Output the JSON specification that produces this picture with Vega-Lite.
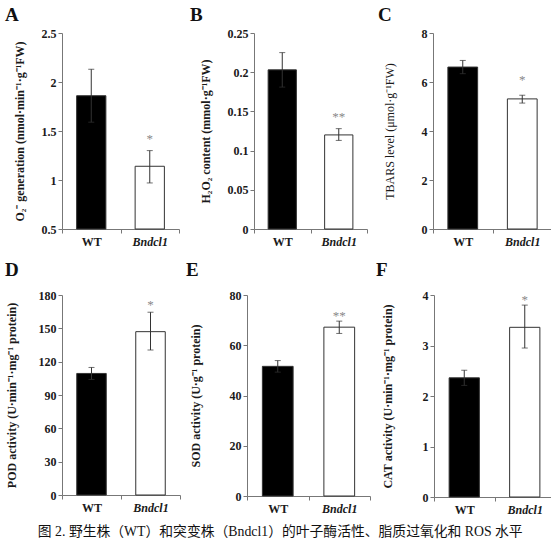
{
  "$schema": "https://vega.github.io/schema/vega-lite/v6.json",
  "padding": {"left": 5, "top": 6, "right": 0, "bottom": 0},
  "datasets": {
    "enz": [
      {"panel": "A", "g": "WT", "v": 1.86, "lo": 1.59, "hi": 2.13, "star": "", "sy": null},
      {"panel": "A", "g": "Bndcl1", "v": 1.14, "lo": 0.97, "hi": 1.30, "star": "*", "sy": 1.42},
      {"panel": "B", "g": "WT", "v": 0.203, "lo": 0.181, "hi": 0.225, "star": "", "sy": null},
      {"panel": "B", "g": "Bndcl1", "v": 0.120, "lo": 0.113, "hi": 0.128, "star": "**", "sy": 0.143},
      {"panel": "C", "g": "WT", "v": 6.61, "lo": 6.34, "hi": 6.88, "star": "", "sy": null},
      {"panel": "C", "g": "Bndcl1", "v": 5.31, "lo": 5.14, "hi": 5.46, "star": "*", "sy": 6.08},
      {"panel": "D", "g": "WT", "v": 109.4, "lo": 104, "hi": 114.8, "star": "", "sy": null},
      {"panel": "D", "g": "Bndcl1", "v": 147, "lo": 130.5, "hi": 164.5, "star": "*", "sy": 171},
      {"panel": "E", "g": "WT", "v": 51.6, "lo": 49.3, "hi": 53.9, "star": "", "sy": null},
      {"panel": "E", "g": "Bndcl1", "v": 67.2, "lo": 64.7, "hi": 69.6, "star": "**", "sy": 71.7},
      {"panel": "F", "g": "WT", "v": 2.36, "lo": 2.21, "hi": 2.51, "star": "", "sy": null},
      {"panel": "F", "g": "Bndcl1", "v": 3.36, "lo": 2.95, "hi": 3.80, "star": "*", "sy": 3.91}
    ]
  },
  "data": {"name": "enz"},
  "title": {
    "text": "图 2. 野生株（WT）和突变株（Bndcl1）的叶子酶活性、脂质过氧化和 ROS 水平",
    "orient": "bottom",
    "anchor": "middle",
    "font": "Times New Roman, Noto Sans CJK SC",
    "fontSize": 13.8,
    "fontWeight": "normal",
    "offset": 10,
    "color": "#111"
  },
  "vconcat": [
    {
      "spacing": 10,
      "hconcat": [
        {
          "width": 117, "height": 196,
          "title": {"text": "A", "dx": -8, "offset": 2},
          "transform": [{"filter": "datum.panel == 'A'"}],
          "encoding": {"x": {"field": "g", "type": "nominal", "sort": ["WT", "Bndcl1"], "scale": {"paddingInner": 0, "paddingOuter": 0}, "axis": {"labelFontStyle": {"condition": {"test": "datum.value == 'Bndcl1'", "value": "italic"}, "value": "normal"}}}},
          "layer": [
            {"mark": {"type": "bar", "width": {"band": 0.5}, "stroke": "#333", "strokeWidth": 1}, "encoding": {"y": {"field": "v", "type": "quantitative", "scale": {"domain": [0.5, 2.5], "nice": false}, "axis": {"values": [0.5, 1, 1.5, 2, 2.5], "tickCount": 10, "titlePadding": 15, "format": "~r"}, "title": "O₂⁻ generation (nmol·min⁻¹·g⁻¹FW)"}, "y2": {"datum": 0.5}, "fill": {"field": "g", "type": "nominal", "scale": {"domain": ["WT", "Bndcl1"], "range": ["#000000", "#ffffff"]}, "legend": null}}},
            {"mark": {"type": "rule", "color": "#333"}, "encoding": {"y": {"field": "lo", "type": "quantitative"}, "y2": {"field": "hi"}}},
            {"mark": {"type": "tick", "color": "#333", "size": 6, "thickness": 1}, "encoding": {"y": {"field": "hi", "type": "quantitative"}}},
            {"mark": {"type": "tick", "color": "#333", "size": 6, "thickness": 1}, "encoding": {"y": {"field": "lo", "type": "quantitative"}}},
            {"mark": {"type": "text", "color": "#888888", "fontSize": 13, "baseline": "middle"}, "encoding": {"y": {"field": "sy", "type": "quantitative"}, "text": {"field": "star"}}}
          ]
        },
        {
          "width": 113, "height": 196,
          "title": {"text": "B", "dx": -9, "offset": 2},
          "transform": [{"filter": "datum.panel == 'B'"}],
          "encoding": {"x": {"field": "g", "type": "nominal", "sort": ["WT", "Bndcl1"], "scale": {"paddingInner": 0, "paddingOuter": 0}, "axis": {"labelFontStyle": {"condition": {"test": "datum.value == 'Bndcl1'", "value": "italic"}, "value": "normal"}}}},
          "layer": [
            {"mark": {"type": "bar", "width": {"band": 0.5}, "stroke": "#333", "strokeWidth": 1}, "encoding": {"y": {"field": "v", "type": "quantitative", "scale": {"domain": [0, 0.25], "nice": false}, "axis": {"values": [0, 0.05, 0.1, 0.15, 0.2, 0.25], "tickCount": 10, "titlePadding": 15, "format": "~r"}, "title": "H₂O₂ content (mmol·g⁻¹FW)"}, "fill": {"field": "g", "type": "nominal", "scale": {"domain": ["WT", "Bndcl1"], "range": ["#000000", "#ffffff"]}, "legend": null}}},
            {"mark": {"type": "rule", "color": "#333"}, "encoding": {"y": {"field": "lo", "type": "quantitative"}, "y2": {"field": "hi"}}},
            {"mark": {"type": "tick", "color": "#333", "size": 6, "thickness": 1}, "encoding": {"y": {"field": "hi", "type": "quantitative"}}},
            {"mark": {"type": "tick", "color": "#333", "size": 6, "thickness": 1}, "encoding": {"y": {"field": "lo", "type": "quantitative"}}},
            {"mark": {"type": "text", "color": "#888888", "fontSize": 13, "baseline": "middle"}, "encoding": {"y": {"field": "sy", "type": "quantitative"}, "text": {"field": "star"}}}
          ]
        },
        {
          "width": 119, "height": 196,
          "title": {"text": "C", "dx": -5, "offset": 2},
          "transform": [{"filter": "datum.panel == 'C'"}],
          "encoding": {"x": {"field": "g", "type": "nominal", "sort": ["WT", "Bndcl1"], "scale": {"paddingInner": 0, "paddingOuter": 0}, "axis": {"labelFontStyle": {"condition": {"test": "datum.value == 'Bndcl1'", "value": "italic"}, "value": "normal"}}}},
          "layer": [
            {"mark": {"type": "bar", "width": {"band": 0.5}, "stroke": "#333", "strokeWidth": 1}, "encoding": {"y": {"field": "v", "type": "quantitative", "scale": {"domain": [0, 8], "nice": false}, "axis": {"values": [0, 2, 4, 6, 8], "tickCount": 10, "titlePadding": 25, "titleFontWeight": "normal", "format": "~r"}, "title": "TBARS level (μmol·g⁻¹FW)"}, "fill": {"field": "g", "type": "nominal", "scale": {"domain": ["WT", "Bndcl1"], "range": ["#000000", "#ffffff"]}, "legend": null}}},
            {"mark": {"type": "rule", "color": "#333"}, "encoding": {"y": {"field": "lo", "type": "quantitative"}, "y2": {"field": "hi"}}},
            {"mark": {"type": "tick", "color": "#333", "size": 6, "thickness": 1}, "encoding": {"y": {"field": "hi", "type": "quantitative"}}},
            {"mark": {"type": "tick", "color": "#333", "size": 6, "thickness": 1}, "encoding": {"y": {"field": "lo", "type": "quantitative"}}},
            {"mark": {"type": "text", "color": "#888888", "fontSize": 13, "baseline": "middle"}, "encoding": {"y": {"field": "sy", "type": "quantitative"}, "text": {"field": "star"}}}
          ]
        }
      ]
    },
    {
      "spacing": 5,
      "hconcat": [
        {
          "width": 118, "height": 200,
          "title": {"text": "D", "dx": 0, "offset": 9},
          "transform": [{"filter": "datum.panel == 'D'"}],
          "encoding": {"x": {"field": "g", "type": "nominal", "sort": ["WT", "Bndcl1"], "scale": {"paddingInner": 0, "paddingOuter": 0}, "axis": {"labelFontStyle": {"condition": {"test": "datum.value == 'Bndcl1'", "value": "italic"}, "value": "normal"}}}},
          "layer": [
            {"mark": {"type": "bar", "width": {"band": 0.5}, "stroke": "#333", "strokeWidth": 1}, "encoding": {"y": {"field": "v", "type": "quantitative", "scale": {"domain": [0, 180], "nice": false}, "axis": {"values": [0, 30, 60, 90, 120, 150, 180], "tickCount": 10, "titlePadding": 20, "format": "d"}, "title": "POD activity (U·min⁻¹·mg⁻¹ protein)"}, "fill": {"field": "g", "type": "nominal", "scale": {"domain": ["WT", "Bndcl1"], "range": ["#000000", "#ffffff"]}, "legend": null}}},
            {"mark": {"type": "rule", "color": "#333"}, "encoding": {"y": {"field": "lo", "type": "quantitative"}, "y2": {"field": "hi"}}},
            {"mark": {"type": "tick", "color": "#333", "size": 6, "thickness": 1}, "encoding": {"y": {"field": "hi", "type": "quantitative"}}},
            {"mark": {"type": "tick", "color": "#333", "size": 6, "thickness": 1}, "encoding": {"y": {"field": "lo", "type": "quantitative"}}},
            {"mark": {"type": "text", "color": "#888888", "fontSize": 13, "baseline": "middle"}, "encoding": {"y": {"field": "sy", "type": "quantitative"}, "text": {"field": "star"}}}
          ]
        },
        {
          "width": 123, "height": 201,
          "title": {"text": "E", "dx": -3, "offset": 9},
          "transform": [{"filter": "datum.panel == 'E'"}],
          "encoding": {"x": {"field": "g", "type": "nominal", "sort": ["WT", "Bndcl1"], "scale": {"paddingInner": 0, "paddingOuter": 0}, "axis": {"labelFontStyle": {"condition": {"test": "datum.value == 'Bndcl1'", "value": "italic"}, "value": "normal"}}}},
          "layer": [
            {"mark": {"type": "bar", "width": {"band": 0.5}, "stroke": "#333", "strokeWidth": 1}, "encoding": {"y": {"field": "v", "type": "quantitative", "scale": {"domain": [0, 80], "nice": false}, "axis": {"values": [0, 20, 40, 60, 80], "tickCount": 10, "titlePadding": 27, "format": "d"}, "title": "SOD activity (U·g⁻¹ protein)"}, "fill": {"field": "g", "type": "nominal", "scale": {"domain": ["WT", "Bndcl1"], "range": ["#000000", "#ffffff"]}, "legend": null}}},
            {"mark": {"type": "rule", "color": "#333"}, "encoding": {"y": {"field": "lo", "type": "quantitative"}, "y2": {"field": "hi"}}},
            {"mark": {"type": "tick", "color": "#333", "size": 6, "thickness": 1}, "encoding": {"y": {"field": "hi", "type": "quantitative"}}},
            {"mark": {"type": "tick", "color": "#333", "size": 6, "thickness": 1}, "encoding": {"y": {"field": "lo", "type": "quantitative"}}},
            {"mark": {"type": "text", "color": "#888888", "fontSize": 13, "baseline": "middle"}, "encoding": {"y": {"field": "sy", "type": "quantitative"}, "text": {"field": "star"}}}
          ]
        },
        {
          "width": 121, "height": 202,
          "title": {"text": "F", "dx": -5, "offset": 9},
          "transform": [{"filter": "datum.panel == 'F'"}],
          "encoding": {"x": {"field": "g", "type": "nominal", "sort": ["WT", "Bndcl1"], "scale": {"paddingInner": 0, "paddingOuter": 0}, "axis": {"labelFontStyle": {"condition": {"test": "datum.value == 'Bndcl1'", "value": "italic"}, "value": "normal"}}}},
          "layer": [
            {"mark": {"type": "bar", "width": {"band": 0.5}, "stroke": "#333", "strokeWidth": 1}, "encoding": {"y": {"field": "v", "type": "quantitative", "scale": {"domain": [0, 4], "nice": false}, "axis": {"values": [0, 1, 2, 3, 4], "tickCount": 10, "titlePadding": 28, "format": "d"}, "title": "CAT activity (U·min⁻¹·mg⁻¹ protein)"}, "fill": {"field": "g", "type": "nominal", "scale": {"domain": ["WT", "Bndcl1"], "range": ["#000000", "#ffffff"]}, "legend": null}}},
            {"mark": {"type": "rule", "color": "#333"}, "encoding": {"y": {"field": "lo", "type": "quantitative"}, "y2": {"field": "hi"}}},
            {"mark": {"type": "tick", "color": "#333", "size": 6, "thickness": 1}, "encoding": {"y": {"field": "hi", "type": "quantitative"}}},
            {"mark": {"type": "tick", "color": "#333", "size": 6, "thickness": 1}, "encoding": {"y": {"field": "lo", "type": "quantitative"}}},
            {"mark": {"type": "text", "color": "#888888", "fontSize": 13, "baseline": "middle"}, "encoding": {"y": {"field": "sy", "type": "quantitative"}, "text": {"field": "star"}}}
          ]
        }
      ]
    }
  ],
  "spacing": 14,
  "config": {
    "font": "Times New Roman",
    "view": {"stroke": null},
    "axis": {
      "labelFont": "Times New Roman",
      "labelFontWeight": "bold",
      "labelFontSize": 12,
      "labelColor": "#1a1a1a",
      "titleFont": "Times New Roman",
      "titleFontWeight": "bold",
      "titleFontSize": 12,
      "titleColor": "#1a1a1a",
      "domainColor": "#777777",
      "tickColor": "#777777",
      "tickSize": 4,
      "grid": false
    },
    "axisY": {"labelFlush": false, "labelOverlap": false},
    "axisX": {"labelAngle": 0, "title": null, "tickBand": "extent", "labelPadding": 3},
    "text": {"font": "Times New Roman"},
    "title": {"font": "Times New Roman", "fontSize": 19, "fontWeight": "bold", "anchor": "start", "frame": "bounds", "color": "#111111"}
  }
}
